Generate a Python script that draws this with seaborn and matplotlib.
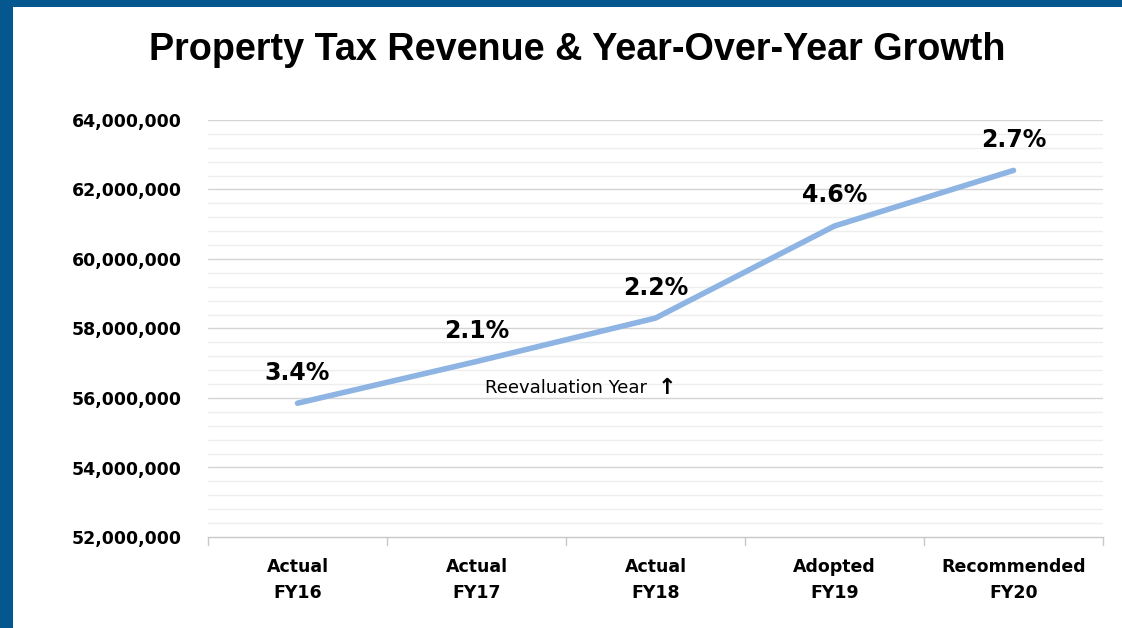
import matplotlib
matplotlib.use("Agg")
import matplotlib.pyplot as plt
import matplotlib.patches as mpatches
import seaborn as sns
import pandas as pd
import numpy as np

categories = ["Actual\nFY16", "Actual\nFY17", "Actual\nFY18", "Adopted\nFY19", "Recommended\nFY20"]
revenue = [55850000, 57050000, 58300000, 60950000, 62550000]
growth_labels = ["3.4%", "2.1%", "2.2%", "4.6%", "2.7%"]
y_ticks = [52000000, 54000000, 56000000, 58000000, 60000000, 62000000, 64000000]

sns.set_theme(style="white")
plt.rcParams['font.family'] = ['DejaVu Sans']

fig = plt.figure(figsize=(11.22, 6.28), dpi=100, facecolor="white")
# blue frame on left and top
fig.patches.append(mpatches.Rectangle((0, 0), 13/1122, 1, transform=fig.transFigure,
                                      facecolor="#05578F", edgecolor="none", zorder=0))
fig.patches.append(mpatches.Rectangle((0, 1 - 7/628), 1, 7/628, transform=fig.transFigure,
                                      facecolor="#05578F", edgecolor="none", zorder=0))

ax = fig.add_axes([208/1122, 1 - 537/628, (1103 - 208)/1122, (537 - 120)/628])
ax.set_facecolor("white")
ax.set_zorder(2)

df = pd.DataFrame({"cat": categories, "rev": revenue})
df["x"] = np.arange(len(categories))
sns.lineplot(data=df, x="x", y="rev", ax=ax, color="#8DB4E2", linewidth=4.0,
             solid_capstyle="round", zorder=3)

ax.set_xlim(-0.5, len(categories) - 0.5)
ax.set_ylim(52000000, 64000000)

# grid
for v in np.arange(52000000, 64000001, 400000):
    major = (v % 2000000) == 0
    if v == 52000000:
        continue
    ax.axhline(v, color="#D4D4D4" if major else "#EEEEEE", linewidth=1.0, zorder=1)

ax.set_yticks(y_ticks)
ax.set_yticklabels([f"{t:,}" for t in y_ticks], fontsize=12.5, fontweight="bold",
                   family="DejaVu Sans", color="black")
ax.set_xticks(df["x"])
ax.set_xticklabels(categories, fontsize=12.5, fontweight="bold", family="DejaVu Sans",
                   linespacing=1.55, color="black")
ax.tick_params(axis="y", length=0, pad=19)
ax.tick_params(axis="x", length=0, pad=15)

# category boundary ticks
for b in np.arange(-0.5, len(categories), 1.0):
    ax.plot([b, b], [52000000, 52000000 - 220000], color="#C8C8C8", linewidth=1.0,
            clip_on=False, zorder=2)

for s in ["top", "right", "left"]:
    ax.spines[s].set_visible(False)
ax.spines["bottom"].set_color("#C8C8C8")
ax.spines["bottom"].set_linewidth(1.0)
ax.set_xlabel("")
ax.set_ylabel("")

for xi, (v, lab) in enumerate(zip(revenue, growth_labels)):
    ax.annotate(lab, (xi, v), xytext=(0, 22), textcoords="offset points",
                ha="center", va="center", fontsize=17, fontweight="bold",
                family="DejaVu Sans", color="black")

ax.text(1.047, 56290000, "Reevaluation Year", ha="left", va="center", fontsize=13,
        family="DejaVu Sans", color="black")
ax.text(2.066, 56290000, "\u2191", ha="center", va="center", fontsize=16, fontweight="bold",
        family="DejaVu Sans", color="black")

fig.text(577/1122, 1 - 50/628, "Property Tax Revenue & Year-Over-Year Growth",
         ha="center", va="center", fontsize=27.2, fontweight="bold",
         family="Liberation Sans", color="black")

fig.savefig("out.png", dpi=100, facecolor=fig.get_facecolor())
